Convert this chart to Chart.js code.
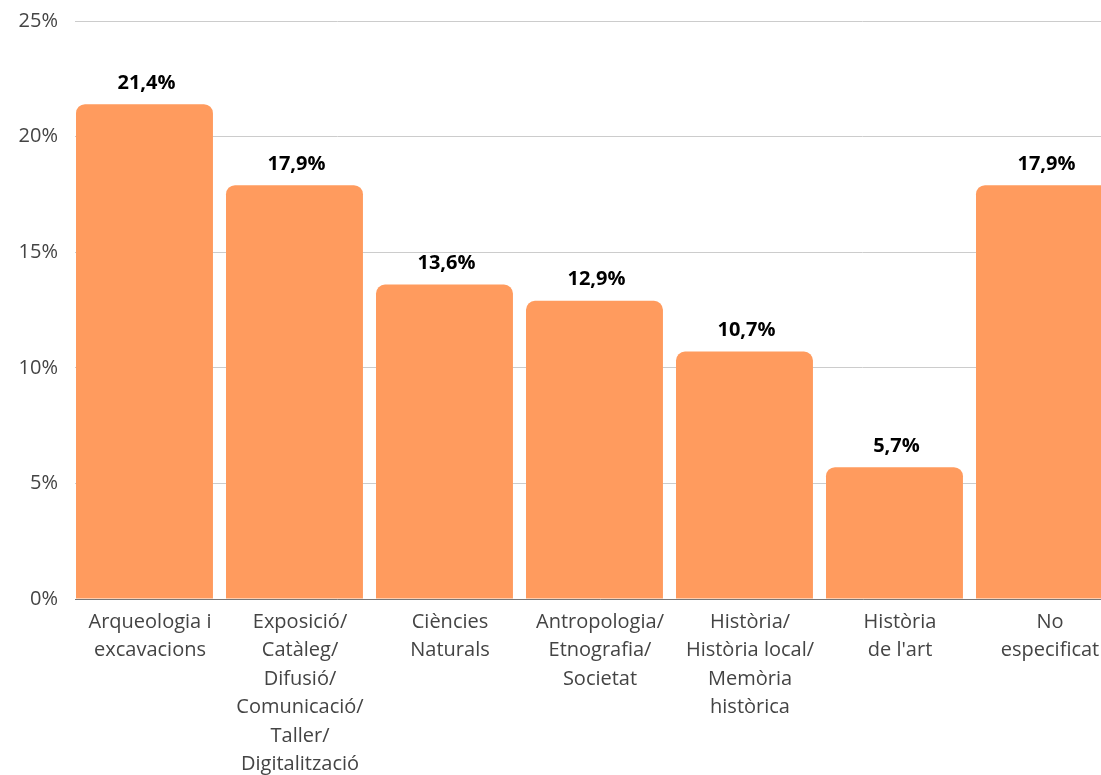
<!DOCTYPE html>
<html>
<head>
<meta charset="utf-8">
<script src="https://cdn.jsdelivr.net/npm/chart.js@4/dist/chart.umd.min.js"></script>
<style>
  html, body { margin:0; padding:0; background:#fff; overflow:hidden; }
  #wrap { position:absolute; left:0; top:-8px; width:1130px; height:783px; }
</style>
</head>
<body>
<div id="wrap"><canvas id="chart"></canvas></div>
<script>
// categories (multi-line as in the picture)
var categories = [
	["Arqueologia i", "excavacions"],
	["Exposició/", "Catàleg/", "Difusió/", "Comunicació/", "Taller/", "Digitalització"],
	["Ciències", "Naturals"],
	["Antropologia/", "Etnografia/", "Societat"],
	["Història/", "Història local/", "Memòria", "històrica"],
	["Història", "de l'art"],
	["No", "especificat"]
];
var values = [21.4, 17.9, 13.6, 12.9, 10.7, 5.7, 17.9];
var yTicks = [0, 5, 10, 15, 20, 25];

var barColor = "#FF9B5E";

// bars sit at the left of their slot, the gap is on the right only
var leftAlignBars = {
	id: "leftAlignBars",
	beforeDatasetsDraw: function(chart){
		var xs = chart.scales.x;
		var slot = xs.width / categories.length;
		chart.getDatasetMeta(0).data.forEach(function(bar, i){
			bar.x = xs.getPixelForValue(i) - slot / 2 + bar.width / 2 + 1;
		});
	}
};

// draws the value above each bar, "21,4%"
var valueLabels = {
	id: "valueLabels",
	afterDatasetsDraw: function(chart){
		var ctx = chart.ctx;
		var meta = chart.getDatasetMeta(0);
		ctx.save();
		ctx.font = "bold 20px 'Open Sans'";
		ctx.fillStyle = "#000";
		ctx.textAlign = "center";
		ctx.textBaseline = "bottom";
		meta.data.forEach(function(bar, i){
			var txt = values[i].toFixed(1).replace(".", ",") + "%";
			ctx.fillText(txt, bar.x + 2, bar.y - 11);
		});
		ctx.restore();
	}
};

var chart = new Chart(document.getElementById("chart"), {
	type: "bar",
	data: {
		labels: categories,
		datasets: [{
			data: values,
			backgroundColor: barColor,
			borderRadius: 9,
			categoryPercentage: 0.913,
			barPercentage: 1
		}]
	},
	options: {
		responsive: true,
		maintainAspectRatio: false,
		animation: false,
		layout: { padding: { top: 4, right: 5, left: 0, bottom: 0 } },
		plugins: { legend: { display: false }, tooltip: { enabled: false } },
		scales: {
			x: {
				grid: { display: false },
				border: { display: true, color: "#777", width: 1 },
				ticks: {
					color: "#444",
					font: { family: "'Open Sans'", size: 20, weight: 400, lineHeight: 1.42 },
					padding: 1,
					maxRotation: 0,
					autoSkip: false
				},
				afterFit: function(scale){ scale.height = 176; }
			},
			y: {
				min: 0,
				max: 25,
				afterBuildTicks: function(scale){
					scale.ticks = yTicks.map(function(v){ return { value: v }; });
				},
				grid: { color: "#cccccc", drawTicks: false },
				border: { display: false },
				ticks: {
					color: "#444",
					font: { family: "'Open Sans'", size: 20, weight: 400 },
					padding: 17,
					callback: function(v){ return v + "%"; }
				},
				afterFit: function(scale){ scale.width = 75; }
			}
		}
	},
	plugins: [leftAlignBars, valueLabels]
});
</script>
</body>
</html>
